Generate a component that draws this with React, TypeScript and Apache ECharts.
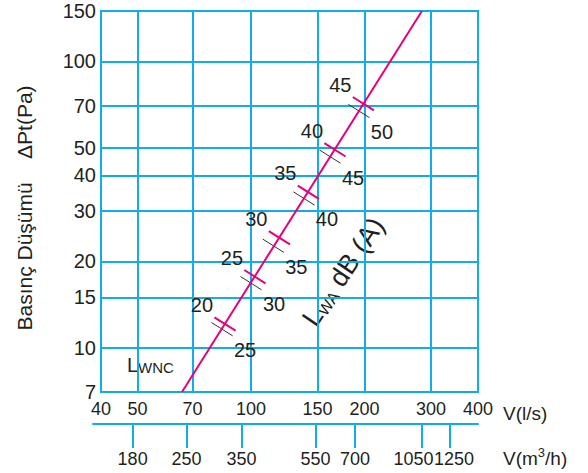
import React, { useEffect, useRef } from "react";
import * as echarts from "echarts";

// Axis ticks
const flowTicks = [40, 50, 70, 100, 150, 200, 300, 400]; // V (l/s)
const pressureTicks = [7, 10, 15, 20, 30, 40, 50, 70, 100, 150]; // ΔPt (Pa)
const m3hTicks = [180, 250, 350, 550, 700, 1050, 1250]; // V (m3/h)

// Characteristic line (l/s, Pa)
const lineFlow = [65.6, 284];
const linePressure = [7, 150];

// Magenta cross ticks (upper-left labels)
const magentaFlow = [85.3, 102.4, 118.9, 141.9, 167, 198.6];
const magentaPressure = [12.1, 17.7, 24.2, 34.9, 49.1, 71.2];
const magentaLabels = [20, 25, 30, 35, 40, 45];

// Black cross ticks (lower-right labels)
const blackFlow = [83.8, 100, 114.6, 138.2, 162, 193.3];
const blackPressure = [11.6, 16.8, 22.7, 33.2, 46.5, 67.1];
const blackLabels = [25, 30, 35, 40, 45, 50];

const BLUE = "#10ADE8";
const MAGENTA = "#E5007D";
const INK = "#231F20";
const FONT = "Liberation Sans, Arial, Helvetica, sans-serif";
const FS = 20; // y labels / line labels
const FSX = 18; // x labels

// small horizontal label nudges (style) for crowded m3/h labels
const m3hLabelShift: Record<number, number> = { 1050: -8, 1250: 4 };

const fmt = (v: number) => String(Math.round(v));

function tickSeries(
  name: string,
  flow: number[],
  pressure: number[],
  labels: number[],
  color: string,
  width: number,
  half: number,
  dx: number,
  dy: number
) {
  return {
    name,
    type: "custom",
    xAxisIndex: 0,
    yAxisIndex: 0,
    data: flow.map((f, i) => [f, pressure[i], labels[i]]),
    renderItem: (_params: any, api: any) => {
      const p = api.coord([api.value(0), api.value(1)]);
      const a = api.coord([lineFlow[0], linePressure[0]]);
      const b = api.coord([lineFlow[1], linePressure[1]]);
      const ex = b[0] - a[0];
      const ey = b[1] - a[1];
      const len = Math.hypot(ex, ey);
      const nx = -ey / len;
      const ny = ex / len;
      return {
        type: "group",
        children: [
          {
            type: "line",
            shape: {
              x1: p[0] - nx * half,
              y1: p[1] - ny * half,
              x2: p[0] + nx * half,
              y2: p[1] + ny * half,
            },
            style: { stroke: color, lineWidth: width },
          },
          {
            type: "text",
            style: {
              text: String(api.value(2)),
              x: p[0] + dx,
              y: p[1] + dy,
              align: "center",
              verticalAlign: "middle",
              fill: INK,
              font: `${FS}px ${FONT}`,
            },
          },
        ],
      };
    },
  };
}

export default function App() {
  const ref = useRef<HTMLDivElement>(null);

  useEffect(() => {
    if (!ref.current) return;
    const chart = echarts.init(ref.current, undefined, { renderer: "svg" });
    const option: any = {
      animation: false,
      backgroundColor: "#ffffff",
      textStyle: { fontFamily: FONT },
      grid: [
        {
          left: 101,
          top: 11,
          width: 377,
          height: 381,
          show: true,
          borderColor: BLUE,
          borderWidth: 2,
          backgroundColor: "transparent",
        },
        { left: 93, top: 423, width: 385, height: 1, show: false },
      ],
      xAxis: [
        {
          type: "log",
          gridIndex: 0,
          min: 40,
          max: 400,
          axisLine: { show: false },
          axisTick: { show: false, customValues: flowTicks },
          splitLine: { show: true, lineStyle: { color: BLUE, width: 2 } },
          axisLabel: {
            customValues: flowTicks,
            formatter: fmt,
            color: INK,
            fontSize: FSX,
            fontFamily: FONT,
            margin: 8,
            showMinLabel: true,
            showMaxLabel: true,
          },
        },
        {
          type: "log",
          gridIndex: 1,
          position: "bottom",
          min: 141.3,
          max: 1483,
          axisLine: { show: true, lineStyle: { color: BLUE, width: 2 } },
          axisTick: {
            show: true,
            customValues: m3hTicks,
            length: 24,
            lineStyle: { color: BLUE, width: 2 },
          },
          splitLine: { show: false },
          axisLabel: { show: false },
        },
      ],
      yAxis: [
        {
          type: "log",
          gridIndex: 0,
          min: 7,
          max: 150,
          axisLine: { show: false },
          axisTick: { show: false, customValues: pressureTicks },
          splitLine: { show: true, lineStyle: { color: BLUE, width: 2 } },
          axisLabel: {
            customValues: pressureTicks,
            formatter: fmt,
            color: INK,
            fontSize: FS,
            fontFamily: FONT,
            margin: 5,
            showMinLabel: true,
            showMaxLabel: true,
          },
        },
        { type: "value", gridIndex: 1, show: false, min: 0, max: 1 },
      ],
      graphic: [
        {
          type: "text",
          x: 24,
          y: 208,
          rotation: Math.PI / 2,
          style: {
            text: "Basınç Düşümü    ΔPt(Pa)",
            align: "center",
            verticalAlign: "middle",
            fill: INK,
            font: `21px ${FONT}`,
          },
        },
        {
          type: "text",
          x: 127,
          y: 364,
          style: {
            text: "{a|L}{b|WNC}",
            align: "left",
            verticalAlign: "middle",
            fill: INK,
            rich: {
              a: { fontSize: 20, fontFamily: FONT, fill: INK, lineHeight: 22, verticalAlign: "bottom" },
              b: { fontSize: 15, fontFamily: FONT, fill: INK, lineHeight: 22, verticalAlign: "bottom" },
            },
          },
        },
        {
          type: "text",
          x: 342,
          y: 271,
          rotation: (56 * Math.PI) / 180,
          style: {
            text: "{a|L}{s|WA}{a| dB (A)}",
            align: "center",
            verticalAlign: "middle",
            fill: INK,
            rich: {
              a: { fontSize: 27, fontFamily: FONT, fill: INK, lineHeight: 30, verticalAlign: "bottom" },
              s: { fontSize: 16, fontFamily: FONT, fill: INK, lineHeight: 26, verticalAlign: "bottom" },
            },
          },
        },
        {
          type: "text",
          x: 503,
          y: 413,
          style: {
            text: "V(l/s)",
            align: "left",
            verticalAlign: "middle",
            fill: INK,
            font: `19px ${FONT}`,
          },
        },
        {
          type: "text",
          x: 503,
          y: 457,
          style: {
            text: "{a|V(m}{s|3}{a|/h)}",
            align: "left",
            verticalAlign: "middle",
            fill: INK,
            rich: {
              a: { fontSize: 19, fontFamily: FONT, fill: INK, lineHeight: 22, verticalAlign: "bottom" },
              s: { fontSize: 13, fontFamily: FONT, fill: INK, lineHeight: 22, verticalAlign: "top" },
            },
          },
        },
      ],
      series: [
        {
          name: "Characteristic",
          type: "line",
          xAxisIndex: 0,
          yAxisIndex: 0,
          data: lineFlow.map((f, i) => [f, linePressure[i]]),
          symbol: "none",
          lineStyle: { color: MAGENTA, width: 2 },
          silent: true,
        },
        tickSeries("LWNC", magentaFlow, magentaPressure, magentaLabels, MAGENTA, 2, 12.5, -23, -19),
        tickSeries("LWA", blackFlow, blackPressure, blackLabels, "#333333", 1, 12.5, 23, 21),
        {
          name: "m3h labels",
          type: "custom",
          xAxisIndex: 1,
          yAxisIndex: 1,
          clip: false,
          silent: true,
          data: m3hTicks.map((v) => [v, 0]),
          renderItem: (_params: any, api: any) => {
            const v = api.value(0);
            const p = api.coord([v, 0]);
            return {
              type: "text",
              style: {
                text: String(Math.round(v)),
                x: p[0] + (m3hLabelShift[Math.round(v)] || 0),
                y: p[1] + 35,
                align: "center",
                verticalAlign: "middle",
                fill: INK,
                font: `${FSX}px ${FONT}`,
              },
            };
          },
        },
      ],
    };
    chart.setOption(option);
    return () => chart.dispose();
  }, []);

  return (
    <div
      ref={ref}
      style={{ position: "fixed", left: 0, top: 0, width: 588, height: 473 }}
    />
  );
}
